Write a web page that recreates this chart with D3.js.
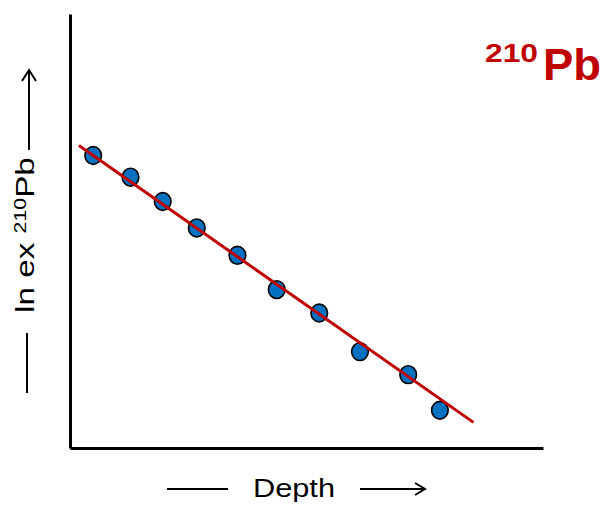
<!DOCTYPE html>
<html><head><meta charset="utf-8">
<script src="https://cdn.jsdelivr.net/npm/d3@7"></script>
<style>html,body{margin:0;padding:0;background:#fff}svg{display:block}</style>
</head><body>
<script>
// Data (abstract units: depth 0..100, ln ex 210Pb 0..100)
const depth = [4.9, 12.8, 19.6, 26.8, 35.4, 43.7, 52.7, 61.3, 71.5, 78.2];
const lnEx  = [67.4, 62.4, 56.8, 50.7, 44.4, 36.5, 31.1, 22.2, 16.9, 8.7];
const fitDepth = [1.9, 85.3];
const fitLnEx  = [69.7, 5.9];
const xLabel = "Depth";
const yLabelParts = ["ln ex ", "210", "Pb"];
const titleParts = ["210", "Pb"];

const W = 607, H = 506;
const svg = d3.select("body").append("svg").attr("width", W).attr("height", H);
const font = "Arial, 'Liberation Sans', Helvetica, sans-serif";

const x = d3.scaleLinear().domain([0, 100]).range([70, 543]);
const y = d3.scaleLinear().domain([0, 100]).range([448, 14]);

// Axes (no ticks)
svg.append("g").attr("transform", `translate(0,${y(0)})`)
  .call(d3.axisBottom(x).ticks(0).tickSizeOuter(0))
  .call(g => g.select(".domain").attr("stroke", "#000").attr("stroke-width", 3))
  .call(g => g.selectAll(".tick").remove());
svg.append("g").attr("transform", `translate(${x(0)},0)`)
  .call(d3.axisLeft(y).ticks(0).tickSizeOuter(0))
  .call(g => g.select(".domain").attr("stroke", "#000").attr("stroke-width", 3))
  .call(g => g.selectAll(".tick").remove());

// Points
const pts = depth.map((d, i) => ({d, v: lnEx[i]}));
svg.append("g").selectAll("ellipse").data(pts).join("ellipse")
  .attr("cx", p => x(p.d)).attr("cy", p => y(p.v))
  .attr("rx", 8.3).attr("ry", 8.9)
  .attr("fill", "#0070c0").attr("stroke", "#000").attr("stroke-width", 1.6);

// Fit line
svg.append("path")
  .datum(fitDepth.map((d, i) => [d, fitLnEx[i]]))
  .attr("d", d3.line().x(p => x(p[0])).y(p => y(p[1])))
  .attr("stroke", "#c00000").attr("stroke-width", 3).attr("fill", "none");

function fit(sel, target) {
  const w = sel.node().getBBox().width;
  return target / w;
}

// Title 210Pb
const t1 = svg.append("text").attr("x", 485).attr("y", 62)
  .attr("font-family", font).attr("font-weight", "bold").attr("font-size", 26)
  .attr("fill", "#c00000").text(titleParts[0]);
t1.attr("textLength", 53).attr("lengthAdjust", "spacingAndGlyphs");
const t2 = svg.append("text").attr("x", 543).attr("y", 80)
  .attr("font-family", font).attr("font-weight", "bold").attr("font-size", 44)
  .attr("fill", "#c00000").text(titleParts[1]);
t2.attr("textLength", 58).attr("lengthAdjust", "spacingAndGlyphs");

// X label
svg.append("text").attr("x", 253).attr("y", 497)
  .attr("font-family", font).attr("font-size", 26).attr("fill", "#000")
  .attr("textLength", 82).attr("lengthAdjust", "spacingAndGlyphs")
  .text(xLabel);
svg.append("line").attr("x1", 167).attr("x2", 228).attr("y1", 489).attr("y2", 489)
  .attr("stroke", "#000").attr("stroke-width", 2);
svg.append("path").attr("d", "M360,489H425M415,483L425,489L415,495")
  .attr("stroke", "#000").attr("stroke-width", 2).attr("fill", "none");

// Y label
const yg = svg.append("g").attr("transform", "translate(34,313) rotate(-90)");
const yt = yg.append("text").attr("x", 0).attr("y", 0)
  .attr("font-family", font).attr("font-size", 25).attr("fill", "#000");
yt.append("tspan").text(yLabelParts[0]);
yt.append("tspan").attr("font-size", 16).attr("dy", -8).text(yLabelParts[1]);
yt.append("tspan").attr("dy", 8).text(yLabelParts[2]);
const s = fit(yt, 156);
yt.attr("transform", `scale(${s},1)`);
svg.append("line").attr("x1", 27).attr("x2", 27).attr("y1", 333).attr("y2", 393)
  .attr("stroke", "#000").attr("stroke-width", 2);
svg.append("path").attr("d", "M29,150V70M22,81L29,70L36,81")
  .attr("stroke", "#000").attr("stroke-width", 2).attr("fill", "none");
</script>
</body></html>
